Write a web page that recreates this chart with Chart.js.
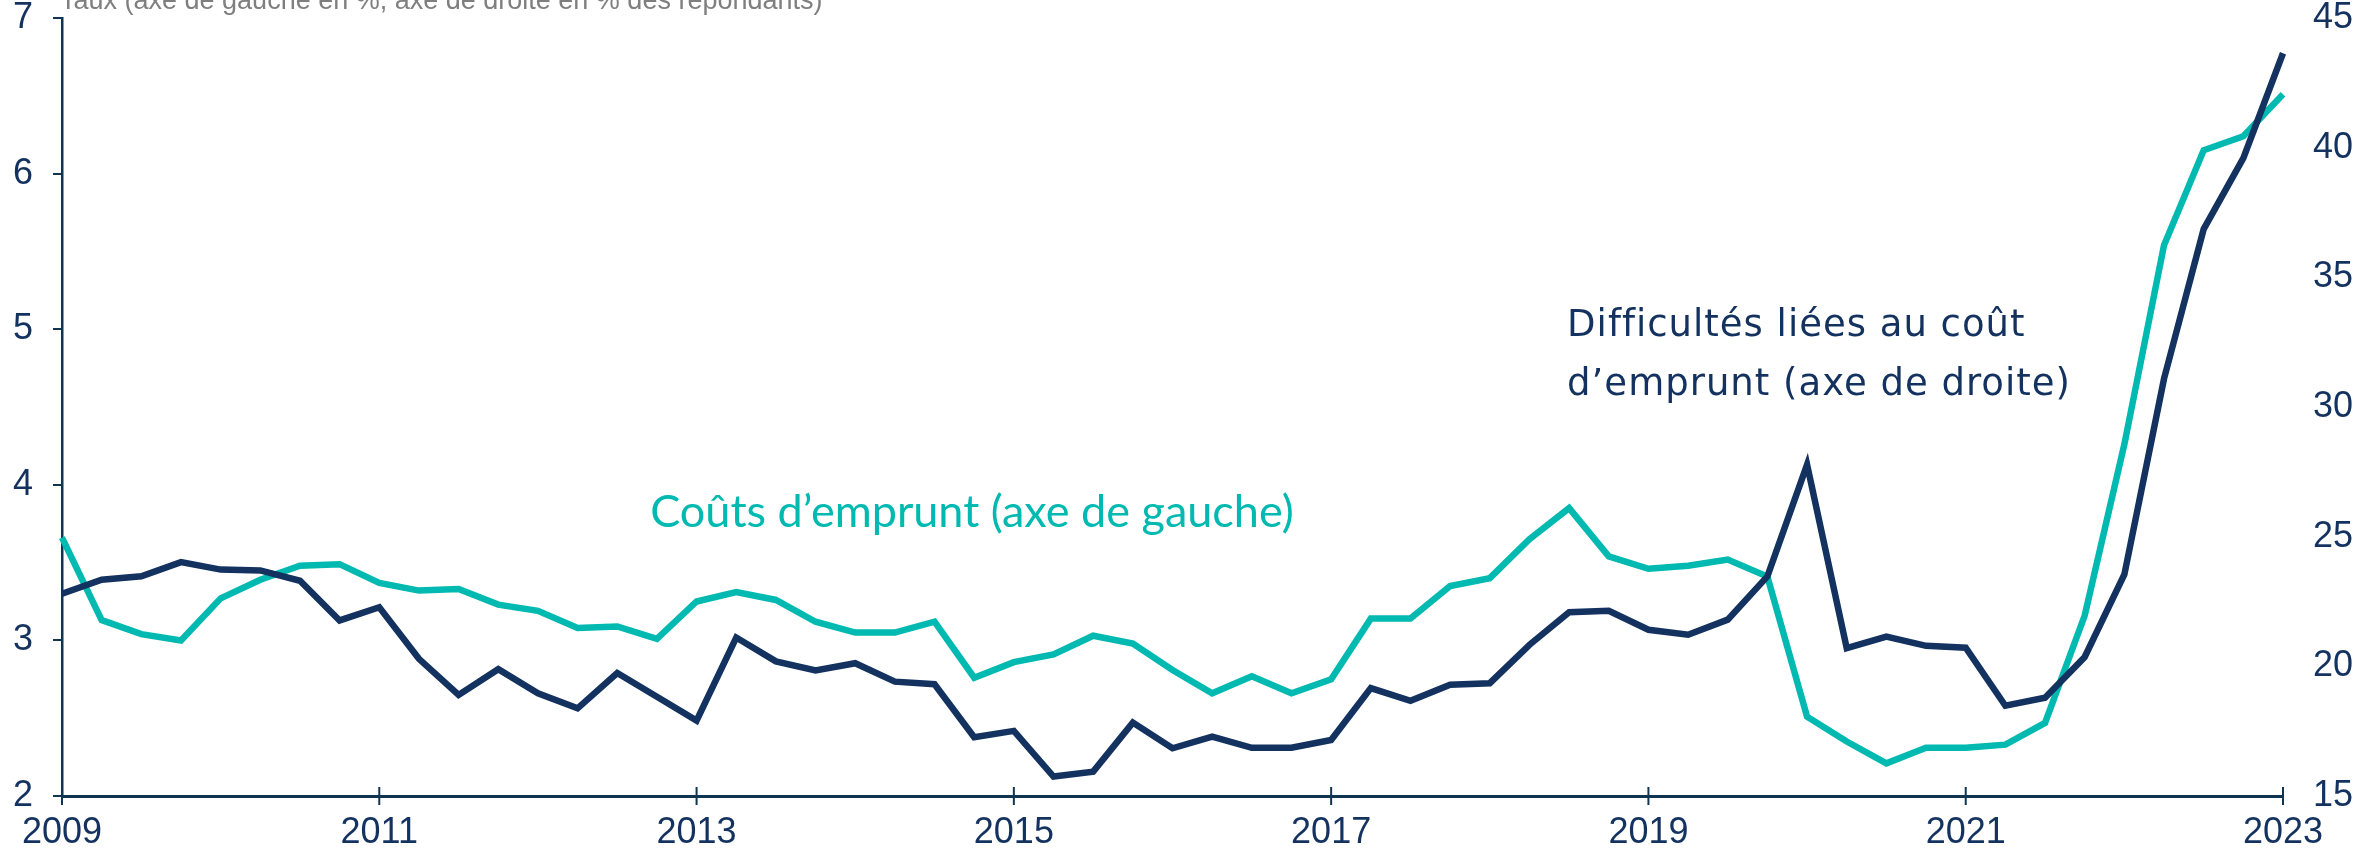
<!DOCTYPE html>
<html>
<head>
<meta charset="utf-8">
<script src="https://cdn.jsdelivr.net/npm/chart.js@4.4.0/dist/chart.umd.min.js"></script>
<style>
html, body { margin: 0; background: #ffffff; }
#cadre { width: 2374px; height: 850px; }
</style>
</head>
<body>
<div id="cadre"><canvas id="graphique" width="2374" height="850"></canvas></div>
<script>
// Données trimestrielles, 2009T1 à 2023T1
const annees = ['2009', '2010', '2011', '2012', '2013', '2014', '2015', '2016', '2017', '2018', '2019', '2020', '2021', '2022', '2023'];
const trimestres = ['T1', 'T2', 'T3', 'T4'];
const anneesAffichees = ['2009', '2011', '2013', '2015', '2017', '2019', '2021', '2023'];

// Coûts d'emprunt (axe de gauche, %)
const coutsEmprunt = [
  3.66, 3.13, 3.04, 3.00, 3.27, 3.39, 3.48, 3.49, 3.37, 3.32,
  3.33, 3.23, 3.19, 3.08, 3.09, 3.01, 3.25, 3.31, 3.26, 3.12,
  3.05, 3.05, 3.12, 2.76, 2.86, 2.91, 3.03, 2.98, 2.81, 2.66,
  2.77, 2.66, 2.75, 3.14, 3.14, 3.35, 3.40, 3.65, 3.85, 3.54,
  3.46, 3.48, 3.52, 3.41, 2.51, 2.35, 2.21, 2.31, 2.31, 2.33,
  2.47, 3.16, 4.26, 5.54, 6.15, 6.24, 6.51
];

// Difficultés liées au coût d'emprunt (axe de droite, % des répondants)
const difficultes = [
  22.80, 23.34, 23.47, 24.02, 23.73, 23.70, 23.30, 21.77, 22.28, 20.29,
  18.90, 19.89, 18.96, 18.38, 19.74, 18.83, 17.91, 21.11, 20.19, 19.84,
  20.12, 19.41, 19.31, 17.27, 17.51, 15.75, 15.94, 17.83, 16.84, 17.29,
  16.86, 16.86, 17.16, 19.16, 18.67, 19.29, 19.35, 20.83, 22.09, 22.14,
  21.41, 21.22, 21.80, 23.47, 27.78, 20.70, 21.15, 20.79, 20.72, 18.48,
  18.79, 20.36, 23.54, 31.09, 36.86, 39.60, 43.64
];

const etiquettes = annees.flatMap(a => trimestres.map(t => a + t)).slice(0, coutsEmprunt.length);

const bleu = '#14325f';
const turquoise = '#00b9b0';
const axe = '#103550';
const police = '"Liberation Sans", Arial, sans-serif';

// petites marques de l'axe x qui traversent la ligne
const marquesX = {
  id: 'marquesX',
  afterDraw(chart) {
    const ctx = chart.ctx;
    const x = chart.scales.x;
    const bas = chart.chartArea.bottom;
    ctx.save();
    ctx.strokeStyle = axe;
    ctx.lineWidth = 2;
    etiquettes.forEach((e, i) => {
      if (e.endsWith('T1') && anneesAffichees.includes(e.slice(0, 4))) {
        const px = x.getPixelForValue(i);
        ctx.beginPath();
        ctx.moveTo(px, bas - 9);
        ctx.lineTo(px, bas + 9);
        ctx.stroke();
      }
    });
    ctx.restore();
  }
};

// textes sur le graphique
const textes = {
  id: 'textes',
  afterDatasetsDraw(chart) {
    const ctx = chart.ctx;
    const x = chart.scales.x;
    const yg = chart.scales.y;
    const yd = chart.scales.y1;
    ctx.save();
    ctx.textBaseline = 'alphabetic';
    ctx.textAlign = 'left';

    ctx.fillStyle = '#7f7f7f';
    ctx.font = '27px ' + police;
    ctx.fillText('Taux (axe de gauche en %, axe de droite en % des répondants)', 60, 9);

    ctx.fillStyle = turquoise;
    ctx.font = '45px Lato, "Open Sans", sans-serif';
    ctx.fillText('Coûts d’emprunt (axe de gauche)', x.getPixelForValue(14.83), yg.getPixelForValue(3.73));

    ctx.fillStyle = bleu;
    ctx.font = '37px "DejaVu Sans", sans-serif';
    ctx.letterSpacing = '1px';
    ctx.fillText('Difficultés liées au coût', x.getPixelForValue(37.95), yd.getPixelForValue(32.72));
    ctx.fillText('d’emprunt (axe de droite)', x.getPixelForValue(37.95), yd.getPixelForValue(30.48));
    ctx.restore();
  }
};

new Chart(document.getElementById('graphique'), {
  type: 'line',
  data: {
    labels: etiquettes,
    datasets: [{
      label: 'Difficultés liées au coût d’emprunt (axe de droite)',
      data: difficultes,
      yAxisID: 'y1',
      borderColor: bleu,
      borderWidth: 6.5,
      pointRadius: 0,
      tension: 0,
      order: 0
    }, {
      label: 'Coûts d’emprunt (axe de gauche)',
      data: coutsEmprunt,
      yAxisID: 'y',
      borderColor: turquoise,
      borderWidth: 6.5,
      pointRadius: 0,
      tension: 0,
      order: 1
    }]
  },
  options: {
    responsive: false,
    animation: false,
    devicePixelRatio: 1,
    layout: { padding: { top: 18, left: 0, right: 0, bottom: 0 } },
    plugins: {
      legend: { display: false },
      tooltip: { enabled: false }
    },
    scales: {
      x: {
        type: 'category',
        offset: false,
        grid: { display: false, drawTicks: false },
        border: { display: true, color: axe, width: 3 },
        ticks: {
          autoSkip: false,
          maxRotation: 0,
          padding: 15,
          color: bleu,
          font: { family: police, size: 36 },
          callback: function (v) {
            const e = this.getLabelForValue(v);
            return (e.endsWith('T1') && anneesAffichees.includes(e.slice(0, 4))) ? e.slice(0, 4) : '';
          }
        },
        afterFit: s => { s.height = 54; s.paddingLeft = 0; s.paddingRight = 0; }
      },
      y: {
        position: 'left',
        min: 2,
        max: 7,
        grid: { drawOnChartArea: false, drawTicks: true, tickLength: 9, color: axe, lineWidth: 2 },
        border: { display: true, color: axe, width: 2.5 },
        ticks: {
          stepSize: 1,
          padding: 20,
          color: bleu,
          font: { family: police, size: 36 }
        },
        afterFit: s => { s.width = 62; s.paddingTop = 0; s.paddingBottom = 0; }
      },
      y1: {
        position: 'right',
        min: 15,
        max: 45,
        grid: { display: false, drawTicks: false },
        border: { display: false },
        ticks: {
          stepSize: 5,
          padding: 30,
          color: bleu,
          font: { family: police, size: 36 }
        },
        afterFit: s => { s.width = 91; s.paddingTop = 0; s.paddingBottom = 0; }
      }
    }
  },
  plugins: [marquesX, textes]
});
</script>
</body>
</html>
